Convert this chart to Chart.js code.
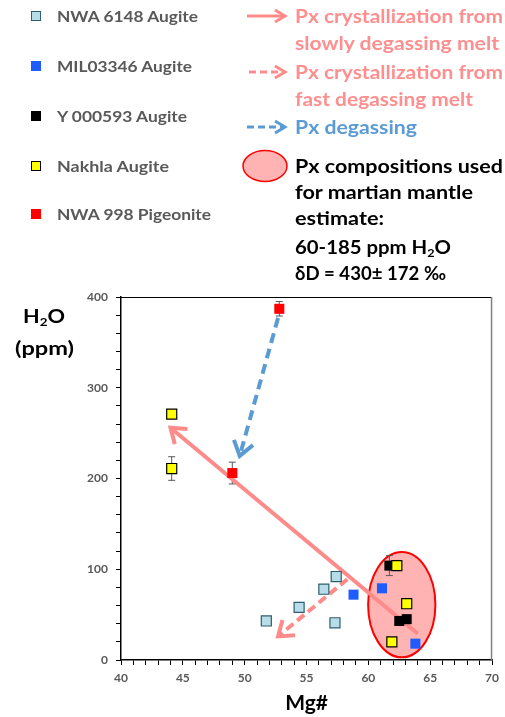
<!DOCTYPE html>
<html>
<head>
<meta charset="utf-8">
<script src="https://cdn.jsdelivr.net/npm/chart.js@4.4.0/dist/chart.umd.min.js"></script>
<style>
  body { margin: 0; background: #fff; font-family: Lato, "Open Sans", sans-serif; font-weight: bold; }
  #wrap { position: relative; width: 505px; height: 717px; overflow: hidden; }
  canvas { position: absolute; left: 0; top: 0; }
  .lab { position: absolute; white-space: nowrap; transform-origin: 0 50%; }
  .left { left: 57px; font-size: 16px; line-height: 20px; color: #595959; }
  .mk { position: absolute; left: 31px; width: 10px; height: 10px; box-sizing: border-box; }
  .right { left: 295px; font-size: 18px; line-height: 24px; }
  .yt { font-size: 18.5px; line-height: 24px; color: #000; }
  sub { font-size: 0.62em; vertical-align: -0.25em; line-height: 0; }
</style>
</head>
<body>
<div id="wrap">
  <canvas id="chart" width="505" height="717"></canvas>
  <div id="texts"></div>
  <svg style="position:absolute;left:0;top:0" width="505" height="300" id="icons"></svg>
</div>
<script>
// series names (legend order)
const seriesNames = ['NWA 6148 Augite', 'MIL03346 Augite', 'Y 000593 Augite', 'Nakhla Augite', 'NWA 998 Pigeonite'];

// Mg# / H2O (ppm) / error (ppm)
const nwa6148X = [51.75, 54.4, 56.4, 57.4, 57.3];
const nwa6148Y = [43, 58, 78, 92, 41];
const nwa6148Err = [4, 0, 0, 0, 0];

const mil03346X = [58.8, 61.1, 63.8];
const mil03346Y = [72, 79, 18];
const mil03346Err = [0, 0, 0];

const y000593X = [61.7, 62.5, 63.1];
const y000593Y = [104, 43, 45];
const y000593Err = [11, 0, 0];

const nakhlaX = [62.3, 63.1, 61.9, 44.1, 44.1];
const nakhlaY = [104, 62, 20, 271, 211];
const nakhlaErr = [0, 0, 0, 0, 13];

const nwa998X = [52.8, 49.0];
const nwa998Y = [387, 206];
const nwa998Err = [8, 12];

// arrows: start -> tip
const slowArrowX = [64.0, 44.0];
const slowArrowY = [29, 256];
const fastArrowX = [58.3, 52.7];
const fastArrowY = [89, 26];
const degasArrowX = [52.7, 49.6];
const degasArrowY = [377, 225];

// ellipse of compositions used for the mantle estimate (centre, radii in data units)
const ellipseCenter = [62.7, 61];
const ellipseRadius = [2.72, 58];

// axis ticks
const xTickLabels = [40, 45, 50, 55, 60, 65, 70];
const yTickLabels = [0, 100, 200, 300, 400];

// annotation text lines
const noteLines = [
  'Px crystallization from', 'slowly degassing melt',
  'Px crystallization from', 'fast degassing melt',
  'Px degassing',
  'Px compositions used', 'for martian mantle', 'estimate:',
  '60-185 ppm H<sub>2</sub>O', 'δD = 430± 172 ‰'
];

const PINK = '#ff8a8a';
const PINK_TXT = '#ff8f8f';
const BLUE = '#5b9bd5';

const pts = (xs, ys) => xs.map((x, i) => ({ x, y: ys[i] }));

const styles = [
  { bg: '#b7dde8', border: '#2f5e6e', bw: 1.2, order: 4 },
  { bg: '#1f5cff', border: '#1f5cff', bw: 0, order: 2 },
  { bg: '#000000', border: '#000000', bw: 0, order: 1 },
  { bg: '#ffff00', border: '#000000', bw: 1.2, order: 0 },
  { bg: '#ff0000', border: '#ff0000', bw: 0, order: 3 }
];

const seriesData = [
  [nwa6148X, nwa6148Y, nwa6148Err],
  [mil03346X, mil03346Y, mil03346Err],
  [y000593X, y000593Y, y000593Err],
  [nakhlaX, nakhlaY, nakhlaErr],
  [nwa998X, nwa998Y, nwa998Err]
];

const pointSets = seriesData.map((s, i) => ({
  label: seriesNames[i],
  data: pts(s[0], s[1]),
  errors: s[2],
  pointStyle: 'rect',
  pointRadius: 7.1,
  backgroundColor: styles[i].bg,
  borderColor: styles[i].border,
  borderWidth: styles[i].bw,
  order: styles[i].order
}));

const arrowSet = (xs, ys, color, dash) => ({
  data: pts(xs, ys),
  showLine: true,
  pointRadius: 0,
  borderColor: color,
  borderWidth: 4,
  borderDash: dash,
  arrow: true,
  order: 10
});

// text labels, each stretched to the width it has in the figure
const texts = document.getElementById('texts');
function addText(html, cls, left, cy, width, color, extra) {
  const d = document.createElement('div');
  d.className = 'lab ' + cls;
  d.innerHTML = html;
  if (color) d.style.color = color;
  texts.appendChild(d);
  const h = d.offsetHeight;
  d.style.top = (cy - h / 2) + 'px';
  if (left !== null) d.style.left = left + 'px';
  const w = d.getBoundingClientRect().width;
  d.style.transform = 'scaleX(' + (width / w) + ')';
  if (extra) extra(d, w);
  return d;
}

const rowY = [16, 66, 116, 166, 214];
const rowW = [141, 135, 130, 112, 154];
seriesNames.forEach((name, i) => {
  const mk = document.createElement('div');
  mk.className = 'mk';
  mk.style.top = (rowY[i] - 5) + 'px';
  mk.style.background = styles[i].bg;
  if (styles[i].bw) mk.style.border = '1.2px solid ' + styles[i].border;
  texts.appendChild(mk);
  addText(name, 'left', 57, rowY[i], rowW[i]);
});

const noteY = [16, 42.7, 71.7, 99.3, 127.3, 165.7, 191.7, 218.3, 246.7, 273.3];
const noteW = [208, 204, 208, 178, 122, 208, 178, 89, 156, 151];
const noteC = [PINK_TXT, PINK_TXT, PINK_TXT, PINK_TXT, BLUE, '#000', '#000', '#000', '#000', '#000'];
noteLines.forEach((t, i) => addText(t, 'right', 295, noteY[i], noteW[i], noteC[i]));

// y axis title, centred near x = 44
addText('H<sub>2</sub>O', 'yt', 23, 316, 42);
addText('(ppm)', 'yt', 15, 348, 59);

const icons = document.getElementById('icons');
icons.innerHTML = `
  <g stroke-width="3" fill="none">
    <line x1="247" y1="16" x2="284" y2="16" stroke="${PINK}"/>
    <polyline points="275,10 285,16 275,22" stroke="${PINK}"/>
    <line x1="249" y1="72" x2="284" y2="72" stroke="${PINK}" stroke-dasharray="7,4"/>
    <polyline points="275,66 285,72 275,78" stroke="${PINK}"/>
    <line x1="247" y1="127" x2="284" y2="127" stroke="${BLUE}" stroke-dasharray="7,4"/>
    <polyline points="275,121 285,127 275,133" stroke="${BLUE}"/>
  </g>
  <ellipse cx="265" cy="166" rx="22" ry="15.5" fill="#ffb3b3" stroke="#ff0000" stroke-width="1.5"/>`;

const framePlugin = {
  id: 'frame',
  beforeDatasetsDraw(chart) {
    const { ctx, chartArea: a, scales: { x, y } } = chart;
    ctx.save();
    // ellipse
    const cx = x.getPixelForValue(ellipseCenter[0]);
    const cy = y.getPixelForValue(ellipseCenter[1]);
    const rx = x.getPixelForValue(ellipseCenter[0] + ellipseRadius[0]) - cx;
    const ry = cy - y.getPixelForValue(ellipseCenter[1] + ellipseRadius[1]);
    ctx.beginPath();
    ctx.ellipse(cx, cy, rx, ry, 0, 0, Math.PI * 2);
    ctx.fillStyle = '#ffb3b3';
    ctx.fill();
    ctx.lineWidth = 2;
    ctx.strokeStyle = '#ff0000';
    ctx.stroke();
    // top / right frame
    ctx.lineWidth = 1;
    ctx.strokeStyle = '#000';
    ctx.beginPath();
    ctx.moveTo(a.left, a.top + 0.5);
    ctx.lineTo(a.right, a.top + 0.5);
    ctx.stroke();
    ctx.lineWidth = 1.5;
    ctx.strokeStyle = '#7f7f7f';
    ctx.beginPath();
    ctx.moveTo(a.right - 0.5, a.top);
    ctx.lineTo(a.right - 0.5, a.bottom);
    ctx.stroke();
    // error bars
    ctx.strokeStyle = '#595959';
    ctx.lineWidth = 1;
    chart.data.datasets.forEach((ds, di) => {
      if (!ds.errors) return;
      const meta = chart.getDatasetMeta(di);
      meta.data.forEach((el, i) => {
        const e = ds.errors[i];
        if (!e) return;
        const v = ds.data[i].y;
        const top = y.getPixelForValue(v + e);
        const bot = y.getPixelForValue(v - e);
        ctx.beginPath();
        ctx.moveTo(el.x, top); ctx.lineTo(el.x, bot);
        ctx.moveTo(el.x - 3.5, top); ctx.lineTo(el.x + 3.5, top);
        ctx.moveTo(el.x - 3.5, bot); ctx.lineTo(el.x + 3.5, bot);
        ctx.stroke();
      });
    });
    ctx.restore();
  }
};

const arrowPlugin = {
  id: 'arrowHeads',
  afterDatasetsDraw(chart) {
    const { ctx } = chart;
    chart.data.datasets.forEach((ds, di) => {
      if (!ds.arrow) return;
      const els = chart.getDatasetMeta(di).data;
      const a = els[els.length - 2], b = els[els.length - 1];
      const ang = Math.atan2(b.y - a.y, b.x - a.x);
      const len = 17, spread = 0.62;
      ctx.save();
      ctx.strokeStyle = ds.borderColor;
      ctx.lineWidth = 4;
      ctx.setLineDash([]);
      ctx.lineJoin = 'miter';
      ctx.beginPath();
      ctx.moveTo(b.x - len * Math.cos(ang - spread), b.y - len * Math.sin(ang - spread));
      ctx.lineTo(b.x, b.y);
      ctx.lineTo(b.x - len * Math.cos(ang + spread), b.y - len * Math.sin(ang + spread));
      ctx.stroke();
      ctx.restore();
    });
  }
};

const tickFont = { family: 'Lato', size: 12, weight: 'bold' };

new Chart(document.getElementById('chart'), {
  type: 'scatter',
  data: {
    datasets: [
      ...pointSets,
      arrowSet(slowArrowX, slowArrowY, PINK, []),
      arrowSet(fastArrowX, fastArrowY, PINK, [9, 5]),
      arrowSet(degasArrowX, degasArrowY, BLUE, [10, 6])
    ]
  },
  options: {
    responsive: false,
    animation: false,
    layout: { padding: { top: 297, right: 8, left: 0, bottom: 0 } },
    plugins: { legend: { display: false }, tooltip: { enabled: false } },
    scales: {
      x: {
        type: 'linear', min: 40, max: 70,
        afterFit: s => { s.height = 57; },
        ticks: {
          stepSize: 1, autoSkip: false, maxRotation: 0, padding: 6,
          color: '#595959', font: tickFont,
          callback: v => xTickLabels.includes(v) ? v : ''
        },
        grid: { drawOnChartArea: false, tickLength: 5, tickColor: '#000' },
        border: { color: '#000', width: 1.5 },
        title: { display: true, text: 'Mg#', color: '#000',
                 font: { family: 'Lato', size: 21, weight: 'bold' }, padding: { top: 0, bottom: 1 } }
      },
      y: {
        min: 0, max: 400,
        afterFit: s => { s.width = 121; },
        ticks: {
          stepSize: 20, autoSkip: false, padding: 8,
          color: '#595959', font: tickFont,
          callback: v => yTickLabels.includes(v) ? v : ''
        },
        grid: { drawOnChartArea: false, tickLength: 5, tickColor: '#000' },
        border: { color: '#000', width: 1.5 }
      }
    }
  },
  plugins: [framePlugin, arrowPlugin]
});
</script>
</body>
</html>
